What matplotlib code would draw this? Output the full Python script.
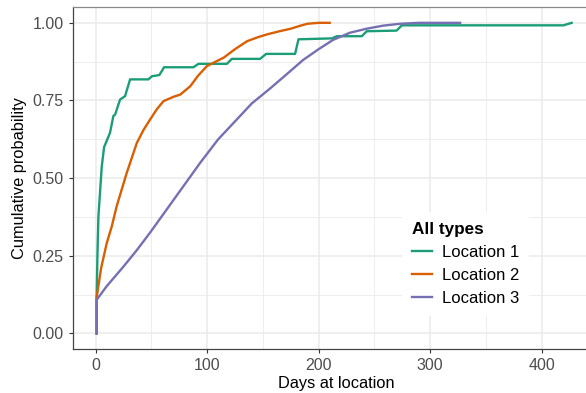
import numpy as np
import matplotlib.pyplot as plt

plt.rcParams['font.family'] = ['Liberation Sans', 'DejaVu Sans']

# Кривые накопленной вероятности
loc1_days = [1, 1, 1.7, 2.6, 5.6, 7.7, 13, 16, 17.6, 22, 26.5, 31, 47.4, 50.5, 57.3, 61.5,
             87.8, 92.3, 117.8, 122.2, 147.6, 153, 179, 182, 212, 216.4, 238.8, 243.3,
             270, 274.7, 419.7, 427]
loc1_prob = [0.0, 0.115, 0.25, 0.377, 0.538, 0.60, 0.646, 0.70, 0.705, 0.753, 0.764, 0.818,
             0.818, 0.828, 0.832, 0.857, 0.857, 0.868, 0.868, 0.884, 0.884, 0.90, 0.90,
             0.947, 0.95, 0.957, 0.957, 0.973, 0.975, 0.992, 0.992, 1.0]

loc2_days = [1, 1, 5, 10, 14.6, 19, 28, 37, 43, 49, 55, 61, 70, 76, 85, 92, 100, 115,
             125, 136, 145, 154, 165, 175, 183, 190, 200, 210]
loc2_prob = [0.0, 0.115, 0.21, 0.29, 0.345, 0.41, 0.517, 0.613, 0.655, 0.689, 0.722, 0.748,
             0.762, 0.769, 0.796, 0.83, 0.861, 0.888, 0.915, 0.941, 0.953, 0.963, 0.973,
             0.981, 0.99, 0.997, 1.0, 1.0]

loc3_days = [1, 1, 10, 25, 37, 49, 64, 78, 94, 110, 127, 140, 157, 170, 186, 200, 213,
             228, 243, 258, 273, 290, 327]
loc3_prob = [0.0, 0.108, 0.152, 0.215, 0.268, 0.325, 0.40, 0.47, 0.55, 0.625, 0.69, 0.74,
             0.79, 0.83, 0.88, 0.915, 0.945, 0.968, 0.981, 0.991, 0.997, 1.0, 1.0]

labels = ['Location 1', 'Location 2', 'Location 3']
colors = ['#1B9E77', '#D95F02', '#7570B3']

fig = plt.figure(figsize=(5.86, 3.93), dpi=100)
ax = fig.add_axes([0.124, 0.112, 0.9, 0.8694])

ax.set_xlim(-20.5, 452.5)
ax.set_ylim(-0.05, 1.05)

ax.set_xticks([0, 100, 200, 300, 400])
ax.set_xticks([50, 150, 250, 350, 450], minor=True)
ax.set_yticks([0, 0.25, 0.5, 0.75, 1.0])
ax.set_yticks([0.125, 0.375, 0.625, 0.875], minor=True)
ax.set_yticklabels(['0.00', '0.25', '0.50', '0.75', '1.00'])

ax.grid(which='major', color='#EBEBEB', lw=1.1, zorder=0)
ax.grid(which='minor', color='#EBEBEB', lw=0.6, zorder=0)
ax.set_axisbelow(True)

for d, p, lab, c in zip([loc1_days, loc2_days, loc3_days],
                        [loc1_prob, loc2_prob, loc3_prob], labels, colors):
    ax.plot(d, p, color=c, lw=1.7, label=lab, solid_joinstyle='round')

for s in ['left', 'bottom']:
    ax.spines[s].set_color('#444444')
    ax.spines[s].set_linewidth(0.9)
ax.spines['top'].set_color('#888888')
ax.spines['top'].set_linewidth(0.9)
ax.spines['right'].set_visible(False)

ax.tick_params(which='major', length=3, width=0.8, color='#333333',
               labelsize=11.5, labelcolor='#4D4D4D')
ax.tick_params(which='minor', length=0)

ax.set_xlabel('Days at location', fontsize=11.8, color='black', labelpad=2)
ax.set_ylabel('Cumulative probability', fontsize=11.8, color='black', labelpad=4)

leg = ax.legend(loc='upper left', bbox_to_anchor=(0.624, 0.40), borderaxespad=0,
                frameon=True, fontsize=12, title='All types', handlelength=1.2,
                handletextpad=0.6, labelspacing=0.48, borderpad=0.6)
leg.get_frame().set_edgecolor('none')
leg.get_frame().set_facecolor('white')
leg.get_frame().set_alpha(1)
leg.get_frame().set_boxstyle('square', pad=0)
leg.get_title().set_fontweight('bold')
leg.get_title().set_fontsize(12.3)
leg._legend_box.align = 'left'

fig.savefig('out.png', dpi=100)
